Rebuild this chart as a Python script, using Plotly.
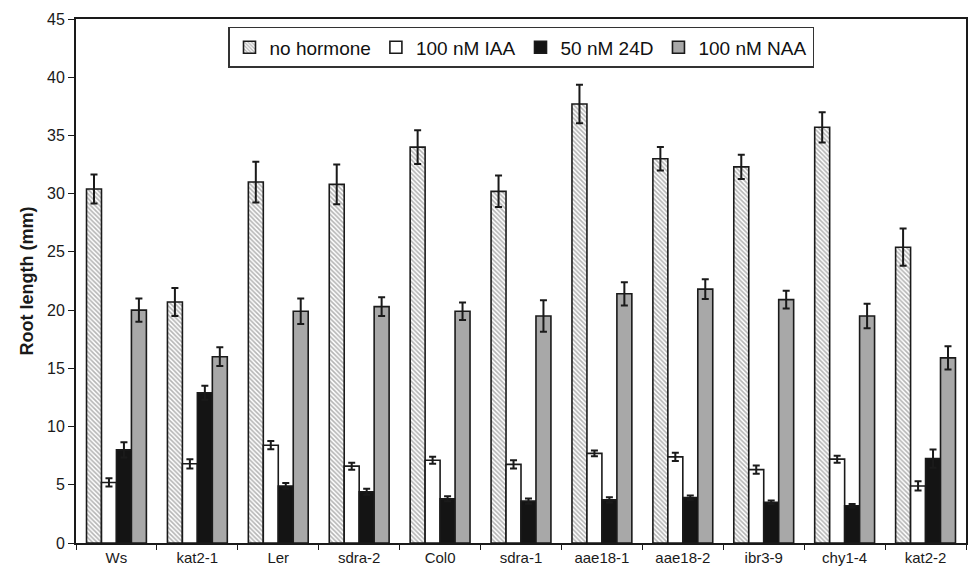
import plotly.graph_objects as go

# Genotypes along the x axis
lines = ["Ws", "kat2-1", "Ler", "sdra-2", "Col0", "sdra-1",
         "aae18-1", "aae18-2", "ibr3-9", "chy1-4", "kat2-2"]

# Mean root length (mm) per treatment
no_hormone = [30.4, 20.7, 31.0, 30.8, 34.0, 30.2, 37.7, 33.0, 32.3, 35.7, 25.4]
iaa_100 = [5.2, 6.8, 8.4, 6.6, 7.1, 6.75, 7.7, 7.4, 6.3, 7.2, 4.9]
d24_50 = [8.0, 12.9, 4.9, 4.4, 3.8, 3.6, 3.7, 3.9, 3.5, 3.2, 7.25]
naa_100 = [20.0, 16.0, 19.9, 20.3, 19.9, 19.5, 21.4, 21.8, 20.9, 19.5, 15.9]

# Error (mm)
no_hormone_err = [1.25, 1.2, 1.75, 1.7, 1.45, 1.35, 1.65, 1.0, 1.05, 1.3, 1.6]
iaa_100_err = [0.35, 0.4, 0.35, 0.3, 0.3, 0.35, 0.25, 0.35, 0.35, 0.3, 0.4]
d24_50_err = [0.65, 0.6, 0.25, 0.25, 0.22, 0.22, 0.22, 0.18, 0.15, 0.15, 0.78]
naa_100_err = [1.0, 0.8, 1.1, 0.8, 0.75, 1.35, 1.0, 0.85, 0.77, 1.05, 1.0]

series_names = ["no hormone", "100 nM IAA", "50 nM 24D", "100 nM NAA"]

outline = dict(color="#1a1a1a", width=1.6)


def err(vals):
    return dict(type="data", array=vals, color="#1a1a1a", thickness=2, width=3.5)


fig = go.Figure()
fig.add_trace(go.Bar(
    x=lines, y=no_hormone, name=series_names[0], error_y=err(no_hormone_err),
    marker=dict(color="white", line=outline,
                pattern=dict(shape="\\", fgcolor="#6a6a6a", bgcolor="white",
                             size=3.2, solidity=0.5)),
))
fig.add_trace(go.Bar(
    x=lines, y=iaa_100, name=series_names[1], error_y=err(iaa_100_err),
    marker=dict(color="white", line=outline),
))
fig.add_trace(go.Bar(
    x=lines, y=d24_50, name=series_names[2], error_y=err(d24_50_err),
    marker=dict(color="#141414", line=outline),
))
fig.add_trace(go.Bar(
    x=lines, y=naa_100, name=series_names[3], error_y=err(naa_100_err),
    marker=dict(color="#a8a8a8", line=outline),
))

font_family = "Liberation Sans, Arial, Helvetica, sans-serif"

fig.update_layout(
    width=969, height=573,
    margin=dict(l=76, r=1, t=19, b=30),
    paper_bgcolor="white", plot_bgcolor="white",
    barmode="group", bargap=0.26, bargroupgap=0,
    font=dict(family=font_family, color="#1a1a1a", size=15),
    showlegend=True,
    legend=dict(
        orientation="h", x=0.5, xanchor="center", y=0.985, yanchor="top",
        bordercolor="#333333", borderwidth=1.5, bgcolor="white",
        font=dict(size=19, color="#111111"), itemwidth=30,
        tracegroupgap=0,
    ),
    xaxis=dict(
        showline=True, linecolor="#1a1a1a", linewidth=2, mirror=True,
        ticks="outside", tickson="boundaries", ticklen=5, tickcolor="#1a1a1a",
        tickfont=dict(size=15), showgrid=False,
    ),
    yaxis=dict(
        range=[0, 45], dtick=5, tick0=0,
        showline=True, linecolor="#1a1a1a", linewidth=2, mirror=True,
        ticks="outside", ticklen=6, tickcolor="#1a1a1a",
        tickfont=dict(size=16), showgrid=False, zeroline=False,
        title=dict(text="<b>Root length (mm)</b>", font=dict(size=18), standoff=9),
    ),
)

fig.write_html("out.html")
